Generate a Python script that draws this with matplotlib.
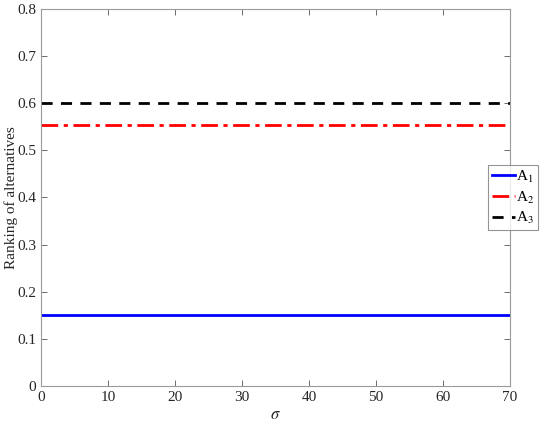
import matplotlib
matplotlib.use('Agg')
import matplotlib.pyplot as plt
import numpy as np

plt.rcParams['font.family'] = ['Liberation Serif', 'DejaVu Serif']
plt.rcParams['mathtext.fontset'] = 'stix'

# data
sigma = [0, 10, 20, 30, 40, 50, 60, 70]
a1 = [0.15] * len(sigma)
a2 = [0.553] * len(sigma)
a3 = [0.60] * len(sigma)
labels = ['A$_1$', 'A$_2$', 'A$_3$']

fig = plt.figure(figsize=(5.5, 4.24), dpi=100)
ax = fig.add_axes([41 / 550, 1 - 386 / 424, 469 / 550, 377 / 424])

ax.plot(sigma, a1, color='#0000ff', lw=2, ls='-', label=labels[0])
ax.plot(sigma, a2, color='#ff0000', lw=2, ls=(0, (6, 2, 1.5, 2)), label=labels[1])
ax.plot(sigma, a3, color='black', lw=2, ls=(0, (4, 3)), label=labels[2])

ax.set_xlim(0, 70)
ax.set_ylim(0, 0.8)
ax.set_xticks(np.arange(0, 71, 10))
ax.set_yticks(np.arange(0, 0.81, 0.1))
ax.set_yticklabels(['0', '0.1', '0.2', '0.3', '0.4', '0.5', '0.6', '0.7', '0.8'])
ax.tick_params(direction='in', length=4, width=0.6, colors='#555555',
               labelcolor='#262626', labelsize=11, top=True, right=True)
for s in ax.spines.values():
    s.set_color('#9a9a9a')
    s.set_linewidth(0.8)

ax.set_xlabel(r'$\sigma$', fontsize=12, color='#262626', labelpad=2)
ax.set_ylabel('Ranking of alternatives', fontsize=11, color='#262626')
ax.yaxis.set_label_coords(-23 / 469, 0.5)

leg = ax.legend(loc='upper left', bbox_to_anchor=(488 / 550, 1 - 165 / 424),
                bbox_transform=fig.transFigure, fontsize=11, frameon=True,
                fancybox=False, edgecolor='#7a7a7a', handlelength=1.5,
                handletextpad=0.1, borderpad=0.25, labelspacing=0.3,
                borderaxespad=0)
leg.get_frame().set_linewidth(0.8)

plt.savefig('out.png', dpi=100)
